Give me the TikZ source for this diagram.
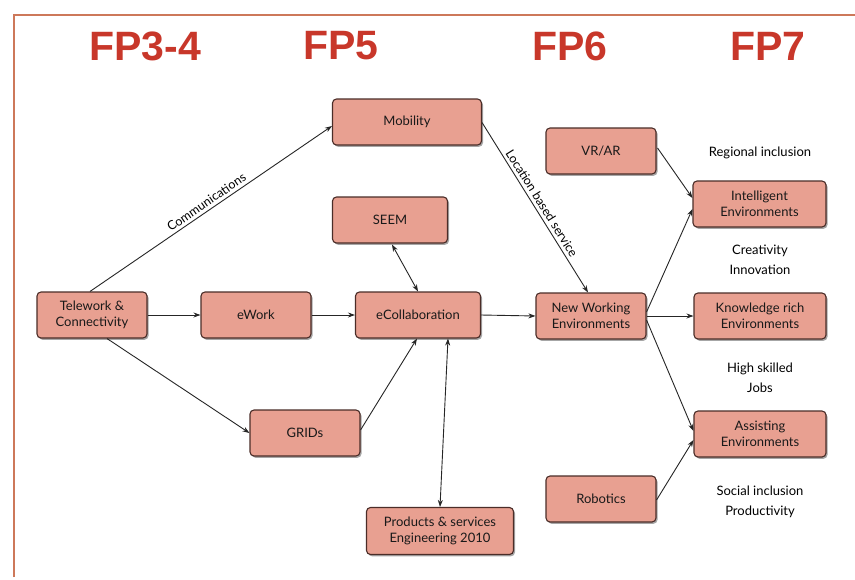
\documentclass[tikz,border=0pt]{standalone}
\usepackage{fontspec}
\setmainfont{Lato}
\newfontfamily\hdrfont{Liberation Sans}
\usetikzlibrary{arrows.meta,shadows,calc}
\definecolor{boxfill}{RGB}{232,160,145}
\definecolor{boxdraw}{RGB}{75,45,40}
\definecolor{hdrred}{RGB}{200,55,42}
\definecolor{framecol}{RGB}{205,120,90}
\tikzset{
  box/.style={draw=boxdraw, line width=1.1pt, fill=boxfill, rounded corners=4pt,
    minimum width=110pt, minimum height=46pt, inner sep=2pt, align=center,
    text=black!90, font=\fontsize{13}{15.5}\selectfont,
    drop shadow={shadow xshift=1.5pt, shadow yshift=-1.8pt, opacity=0.35, fill=black}},
  hdr/.style={text=hdrred, font=\hdrfont\bfseries\fontsize{41}{45}\selectfont},
  lbl/.style={align=center, font=\fontsize{13}{20}\selectfont},
  conn/.style={draw=black!85, line width=0.9pt, -{Stealth[length=7pt,width=5pt]}},
  conn2/.style={draw=black!85, line width=0.9pt, {Stealth[length=7pt,width=5pt]}-{Stealth[length=7pt,width=5pt]}},
  elbl/.style={font=\fontsize{12.5}{14}\selectfont, sloped, above, inner sep=3pt}
}
\begin{document}
\begin{tikzpicture}[x=1pt,y=-1pt]
\useasboundingbox (0,0) rectangle (855,579);
\fill[white] (0,0) rectangle (855,579);
\draw[framecol, line width=1.3pt] (14,577) -- (14,15) -- (855,15);
% headers
\node[hdr] (h1) at (145,46) {FP3-4};
\node[hdr] (h2) at (341,46) {FP5};
\node[hdr] (h3) at (570,46) {FP6};
\node[hdr] (h4) at (768,46) {FP7};
% nodes
\node[box] (tele) at (92,315) {Telework \&\\Connectivity};
\node[box] (ework) at (256,315) {eWork};
\node[box] (grids) at (305,433) {GRIDs};
\node[box, minimum width=125pt] (ecollab) at (418,315) {eCollaboration};
\node[box, minimum width=115pt] (seem) at (390,220) {SEEM};
\node[box, minimum width=149pt] (mob) at (407,122) {Mobility};
\node[box, minimum width=147pt, minimum height=47pt] (prod) at (440,531) {Products \& services\\Engineering 2010};
\node[box] (vrar) at (601,151) {VR/AR};
\node[box] (nwe) at (591,316) {New Working\\Environments};
\node[box] (robot) at (601,499) {Robotics};
\node[box, minimum width=133pt] (intel) at (759.5,204) {Intelligent\\Environments};
\node[box, minimum width=132pt] (know) at (760,316) {Knowledge rich\\Environments};
\node[box, minimum width=132pt] (assist) at (760,434) {Assisting\\Environments};
% labels
\node[lbl] (l1) at (760,153) {Regional inclusion};
\node[lbl] (l2) at (760,260) {Creativity\\Innovation};
\node[lbl] (l3) at (760,378) {High skilled\\Jobs};
\node[lbl] (l4) at (760,502) {Social inclusion\\Productivity};
% connectors
\draw[conn] ($(tele.north)+(-2,0)$) -- node[elbl, pos=0.5] {Communications} ($(mob.west)+(0,4)$);
\draw[conn] (tele.east) -- (ework.west);
\draw[conn] ($(tele.south)+(15,0)$) -- (grids.west);
\draw[conn] (ework.east) -- (ecollab.west);
\draw[conn] ($(grids.east)+(0,-3)$) -- ($(ecollab.south)+(-1,0)$);
\draw[conn2] ($(seem.south)+(2,1)$) -- (ecollab.north);
\draw[conn2] ($(ecollab.south)+(30,0)$) -- (prod.north);
\draw[conn] (ecollab.east) -- (nwe.west);
\draw[conn] ($(mob.south east)+(0,-23)$) -- node[elbl, pos=0.5] {Location based service} ($(nwe.north)+(-3,0)$);
\draw[conn] ($(vrar.east)+(1,-3)$) -- ($(intel.west)+(0,-6)$);
\draw[conn] ($(nwe.east)+(0,-4)$) -- ($(intel.west)+(0,5)$);
\draw[conn] (nwe.east) -- (know.west);
\draw[conn] ($(nwe.east)+(0,4)$) -- ($(assist.west)+(0,-3)$);
\draw[conn] ($(robot.east)+(0,1)$) -- ($(assist.west)+(0,6)$);
\end{tikzpicture}
\end{document}
